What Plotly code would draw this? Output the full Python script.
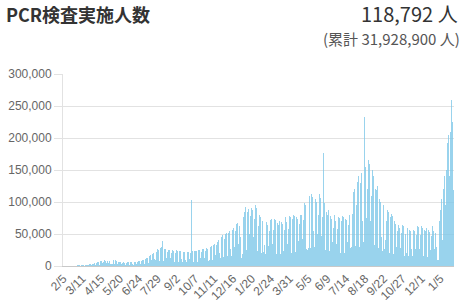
import pandas as pd
import plotly.graph_objects as go

# Daily PCR tests (people), from 2020-02-05
feb20 = [90,120,150,80,40,130,160,180,200,210,120,60,250,300,350,400,380,200,100,300,500,600,700,650,400]
mar20 = [500,1200,1400,1500,1600,1500,900,600,1300,1500,1700,1600,1500,800,500,1400,1700,1800,1700,1000,900,600,1800,2200,2500,2600,2400,1300,900,2600,3200]
apr20 = [3800,4000,4200,2200,1500,4500,5200,5500,5800,6000,3200,2000,6500,7500,8000,7800,8500,4200,2500,7000,8800,9200,8500,9000,4500,2800,7500,8500,4000,8000]
may20 = [8500,4000,2500,3000,2800,3500,13500,9500,4500,2500,8000,9000,8500,8000,7500,3500,2000,6000,7000,6500,6000,6200,3000,1800,5000,5500,5800,5500,5200,2800,1700]
jun20 = [5000,5800,6000,5700,5500,2900,1700,5200,6000,6200,5900,5800,3000,1800,5500,6300,6500,6400,6200,3300,2000,6000,7000,7200,7000,7100,3800,2200,7500,8500]
jul20 = [9000,9200,9500,5000,3000,10000,11500,12000,12500,13000,7000,4000,13500,15500,16000,16500,17000,9000,5500,18000,20000,21000,11000,9000,10000,6000,22000,25000,26000,25500,25000]
aug20 = [14000,8000,24000,28000,30000,29000,39000,15000,8000,10000,26000,27000,26000,55000,13000,7000,22000,25000,26000,25000,24000,12000,7000,21000,25000,25500,25000,24000,12000,6500,21000]
sep20 = [24000,24500,24000,23000,11000,6000,20000,23000,23500,23000,22000,10500,6000,19500,22500,23000,22000,21500,10000,5500,6000,6500,22000,23000,22500,10500,6000,20000,23000,103000]
oct20 = [23500,23000,11000,6000,20500,24000,24500,24000,23500,11500,6500,21000,25000,25500,25000,24500,12000,7000,22000,26000,26500,26000,25500,12500,7500,23000,27500,28000,27500,27000,13000]
nov20 = [8000,25000,9000,29000,30000,30500,15000,9000,28000,33000,34000,35000,35500,17000,10000,33000,38000,40000,41000,42000,20000,12000,13000,42000,46000,47000,48000,23000,14000,42000]
dec20 = [48000,50000,51000,52000,25000,15000,45000,52000,54000,55000,56000,27000,16000,50000,57000,59000,60000,61000,30000,18000,55000,63000,66000,67000,68000,35000,20000,62000,60000,45000,30000]
jan21 = [12000,15000,18000,60000,76000,85000,80000,92000,45000,25000,28000,84000,97000,89000,100000,50000,28000,78000,90000,101000,88000,98000,46000,26000,74000,86000,95000,84000,90000,42000,24000]
feb21 = [62000,74000,80000,70000,76000,35000,20000,58000,70000,75000,22000,72000,33000,19000,55000,68000,73000,64000,71000,32000,18000,54000,20000,72000,66000,74000,34000,19000]
mar21 = [56000,68000,74000,65000,72000,33000,19000,55000,67000,73000,64000,71000,33000,19000,56000,68000,75000,66000,72000,23000,19000,57000,70000,77000,68000,74000,35000,20000,58000,71000,78000]
apr21 = [69000,76000,36000,21000,60000,73000,80000,71000,78000,37000,22000,62000,76000,84000,74000,82000,39000,23000,66000,80000,90000,80000,88000,42000,25000,72000,88000,98000,30000,95000]
may21 = [45000,26000,25000,24000,28000,90000,110000,50000,28000,88000,112000,131000,108000,125000,55000,30000,86000,105000,122000,100000,115000,50000,28000,80000,98000,112000,94000,106000,47000,27000,76000]
jun21 = [92000,177000,88000,98000,44000,25000,70000,85000,92000,80000,88000,40000,23000,64000,78000,86000,74000,82000,37000,21000,60000,73000,80000,70000,77000,35000,20000,58000,70000,77000]
jul21 = [68000,75000,34000,20000,58000,71000,78000,69000,76000,35000,20000,60000,74000,82000,72000,80000,37000,21000,64000,80000,90000,28000,25000,30000,20000,82000,102000,115000,108000,120000,55000]
aug21 = [32000,95000,118000,132000,125000,140000,62000,30000,32000,130000,150000,145000,160000,70000,38000,115000,233000,165000,155000,175000,75000,40000,120000,150000,165000,150000,160000,70000,38000,110000,140000]
sep21 = [150000,200000,140000,60000,33000,98000,120000,130000,118000,125000,52000,28000,85000,104000,112000,100000,108000,45000,25000,24000,88000,95000,26000,92000,40000,22000,70000,84000,88000,80000]
oct21 = [84000,36000,20000,64000,76000,82000,72000,78000,33000,18000,58000,70000,75000,66000,72000,30000,17000,54000,64000,68000,60000,66000,28000,16000,52000,60000,64000,56000,62000,27000,15000]
nov21 = [50000,58000,20000,55000,60000,26000,15000,48000,57000,63000,54000,60000,26000,15000,48000,57000,62000,54000,60000,26000,15000,48000,18000,62000,55000,61000,26000,15000,49000,58000]
dec21 = [63000,55000,60000,26000,15000,48000,57000,62000,54000,59000,25000,14000,47000,56000,61000,53000,58000,25000,14000,47000,57000,62000,55000,61000,27000,16000,52000,50000,30000,18000,10000]
jan22 = [8000,9000,12000,70000,87000,95000,105000,60000,40000,45000,120000,150000,140000,165000,95000,70000,150000,192000,217000,205000,233000,140000,100000,210000,287000,260000,275000,225000,173000,118792]

tests = (feb20 + mar20 + apr20 + may20 + jun20 + jul20 + aug20 + sep20 + oct20 + nov20 + dec20
         + jan21 + feb21 + mar21 + apr21 + may21 + jun21 + jul21 + aug21 + sep21 + oct21 + nov21 + dec21
         + jan22)
start_date = "2020-02-05"
dates = pd.date_range(start_date, periods=len(tests), freq="D")

tick_dates = ["2020-02-05","2020-03-11","2020-04-15","2020-05-20","2020-06-24","2020-07-29","2020-09-02",
              "2020-10-07","2020-11-11","2020-12-16","2021-01-20","2021-02-24","2021-03-31","2021-05-05",
              "2021-06-09","2021-07-14","2021-08-18","2021-09-22","2021-10-27","2021-12-01","2022-01-05"]
tick_labels = ["2/5","3/11","4/15","5/20","6/24","7/29","9/2","10/7","11/11","12/16","1/20","2/24",
               "3/31","5/5","6/9","7/14","8/18","9/22","10/27","12/1","1/5"]
y_ticks = [0, 50000, 100000, 150000, 200000, 250000, 300000]

title_text = "PCR検査実施人数"
latest_text = "118,792 人"
total_text = "(累計 31,928,900 人)"

W, H = 465, 304
L, R, T, B = 63, 11, 74, 38
pw, ph = W - L - R, H - T - B

def px(x):
    return (x - L) / pw

def py(y):
    return (H - B - y) / ph

fig = go.Figure()
fig.add_trace(go.Bar(
    x=dates, y=tests,
    marker=dict(color="rgba(128,200,232,0.8)", line=dict(width=0)),
    hoverinfo="skip",
))

x0 = dates[0] - pd.Timedelta(hours=12)
x1 = dates[-1] + pd.Timedelta(hours=12)

fig.update_layout(
    width=W, height=H,
    margin=dict(l=L, r=R, t=T, b=B, pad=0),
    paper_bgcolor="white", plot_bgcolor="white",
    showlegend=False, bargap=0,
    font=dict(family="Liberation Sans, Arial, sans-serif", size=12, color="#666"),
    xaxis=dict(
        type="date", range=[x0, x1],
        tickmode="array", tickvals=tick_dates, ticktext=tick_labels,
        tickangle=-45, showgrid=False, zeroline=False,
        showline=True, linecolor="#c8c8c8", linewidth=1,
        ticks="", automargin=False,
        tickfont=dict(size=12, color="#666"),
    ),
    yaxis=dict(
        range=[0, 300000], tickmode="array", tickvals=y_ticks,
        tickformat=",", showgrid=True, gridcolor="#e2e2e2", gridwidth=1,
        zeroline=False, showline=True, linecolor="#e2e2e2", linewidth=1,
        ticks="outside", ticklen=8, tickcolor="#e2e2e2", automargin=False,
        tickfont=dict(size=12, color="#666"),
    ),
    annotations=[
        dict(text="<b>" + title_text + "</b>", xref="paper", yref="paper",
             x=px(4), y=py(14), xanchor="left", yanchor="middle", showarrow=False,
             font=dict(family="Noto Sans CJK JP", size=18, color="#333")),
        dict(text=latest_text, xref="paper", yref="paper",
             x=px(460), y=py(13), xanchor="right", yanchor="middle", showarrow=False,
             font=dict(family="Noto Sans CJK JP", size=20, color="#333")),
        dict(text=total_text, xref="paper", yref="paper",
             x=px(462), y=py(39), xanchor="right", yanchor="middle", showarrow=False,
             font=dict(family="Noto Sans CJK JP", size=15, color="#555")),
    ],
)

fig.write_html("out.html")
